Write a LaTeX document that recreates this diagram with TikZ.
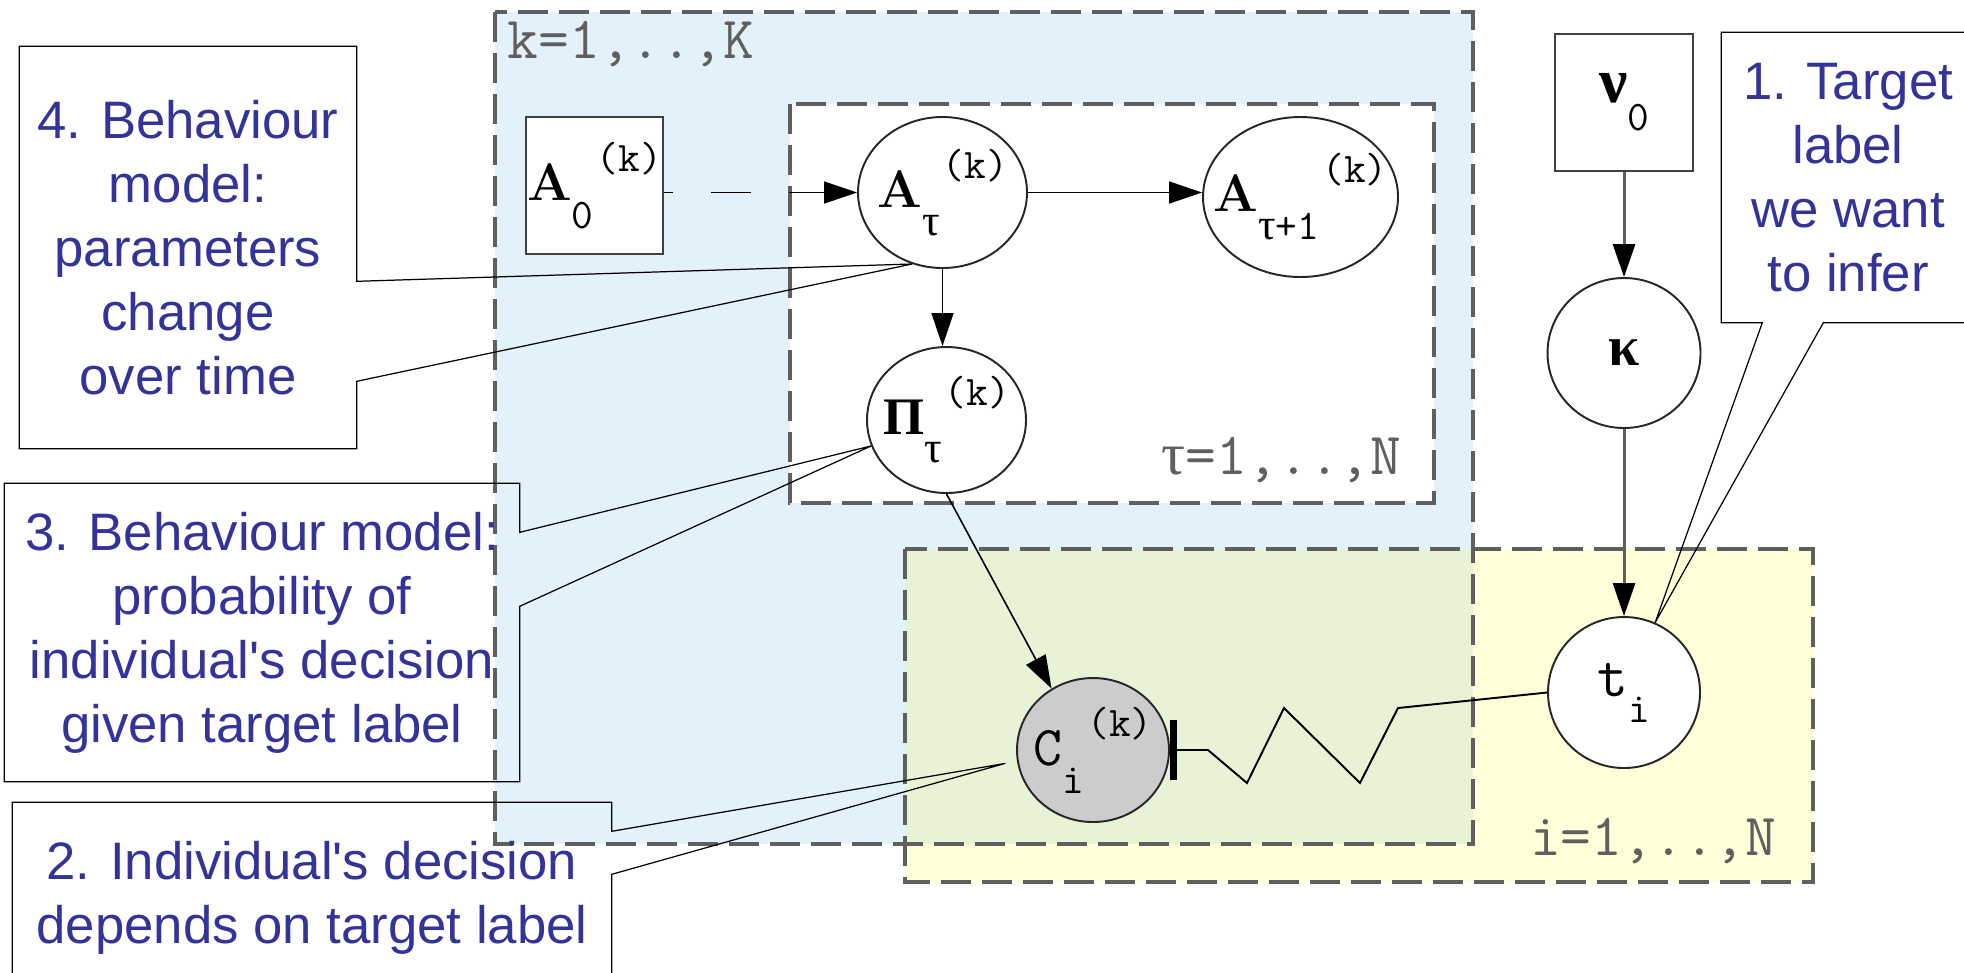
\documentclass[tikz,border=0pt]{standalone}
\usepackage{fontspec}
\setsansfont{Liberation Sans}
\newfontfamily\grkfont{Liberation Serif}
\usepackage{xcolor}
\definecolor{cNote}{HTML}{33339A}
\definecolor{cPlateK}{HTML}{E3F1FA}
\definecolor{cPlateI}{HTML}{FFFFD9}
\definecolor{cPlateKI}{HTML}{E7F2D7}
\definecolor{cLine}{HTML}{5F5F5F}
\definecolor{cObs}{HTML}{CCCCCC}
\usetikzlibrary{positioning,arrows.meta,shapes.geometric,calc}

\newcommand{\bigvar}{\fontsize{15}{15}\selectfont\bfseries}
\newcommand{\subvar}{\fontsize{12}{12}\selectfont\ttfamily}
\newcommand{\tsub}{{\grkfont\fontsize{12.5}{12.5}\selectfont τ}}
% zero-width box, so the label never widens the ellipse
\newcommand{\pgmvar}[3]{\makebox[0pt]{#1\raisebox{-0.28cm}{\subvar #2}%
  \hspace{0.03cm}\raisebox{0.29cm}{\subvar #3}}}

\tikzset{
  node-latent/.style={draw=black!85,line width=0.55pt,ellipse,inner sep=0pt,fill=white},
  node-obs/.style={node-latent,fill=cObs},
  node-fixed/.style={draw=black!75,line width=0.6pt,rectangle,inner sep=0pt,
    fill=white,minimum size=1.37cm},
  plate/.style={draw=cLine,line width=0.9pt,dash pattern=on 0.3cm off 0.11cm},
  plate-label/.style={text=cLine,font=\fontsize{17}{17}\selectfont\ttfamily,inner sep=0pt},
  arrow/.style={-{Triangle[length=0.33cm,width=0.22cm]},line width=0.45pt,draw=black},
  arrow-prior/.style={-{Triangle[length=0.33cm,width=0.22cm,color=black]},
    line width=0.85pt,draw=cLine},
  arrow-bar/.style={{Bar[width=0.6cm,line width=0.07cm]}-,line width=0.55pt,draw=black},
  note-text/.style={font=\fontsize{15}{18.2}\selectfont\sffamily,text=cNote,
    align=center,inner sep=0pt},
  note-line/.style={draw=black,line width=0.35pt},
}

\begin{document}
\begin{tikzpicture}
  \useasboundingbox (0,0) rectangle (19.64,-9.72);
  \clip (0,0) rectangle (19.64,-9.72);

  % plates
  \fill[cPlateK] (4.95,-0.12) rectangle (14.73,-8.44);
  \fill[cPlateI] (9.05,-5.49) rectangle (18.13,-8.82);
  \fill[cPlateKI] (9.05,-5.49) rectangle (14.73,-8.44);
  \fill[white] (7.90,-1.04) rectangle (14.34,-5.03);
  \draw[plate] (4.95,-0.12) rectangle (14.73,-8.44);
  \draw[plate] (7.90,-1.04) rectangle (14.34,-5.03);
  \draw[plate] (9.05,-5.49) rectangle (18.13,-8.82);
  \node[plate-label,anchor=base west] (labK) at (5.07,-0.58) {k=1,..,K};
  \node[plate-label,anchor=base east] (labT) at (14.02,-4.74) {{\grkfont τ}=1,..,N};
  \node[plate-label,anchor=base east] (labI) at (17.77,-8.55) {i=1,..,N};

  % variables
  \node[node-fixed] (A0) at (5.945,-1.855) {\pgmvar{{\bigvar A}}{0}{(k)}};
  \node[node-latent,minimum width=1.69cm,minimum height=1.51cm] (Atau) at (9.425,-1.925)
    {\pgmvar{{\bigvar A}}{\tsub}{(k)}};
  \node[node-latent,minimum width=1.95cm,minimum height=1.60cm] (Atau1) at (13.005,-1.97)
    {\pgmvar{{\bigvar A}}{\tsub+1}{(k)}};
  \node[node-latent,minimum width=1.59cm,minimum height=1.46cm] (Pi) at (9.465,-4.20)
    {\pgmvar{{\grkfont\bigvar Π}}{\tsub}{(k)}};
  \node[node-obs,minimum width=1.52cm,minimum height=1.44cm] (Ci) at (10.93,-7.50)
    {\pgmvar{{\fontsize{16}{16}\selectfont\ttfamily C}}{i}{(k)}};
  \node[node-fixed,minimum width=1.38cm] (nu0) at (16.24,-1.025)
    {{\grkfont\fontsize{18}{18}\selectfont\bfseries ν}\raisebox{-0.28cm}{\subvar 0}};
  \node[node-latent,minimum width=1.53cm,minimum height=1.50cm] (kappa) at (16.24,-3.53)
    {{\grkfont\fontsize{16}{16}\selectfont\bfseries κ}};
  \node[node-latent,minimum width=1.52cm,minimum height=1.51cm] (ti) at (16.24,-6.925)
    {{\fontsize{17}{17}\selectfont\ttfamily t}\raisebox{-0.26cm}{\subvar i}};

  % edges
  \draw[arrow,dash pattern=on 0.4cm off 0.38cm,dash phase=0.31cm]
    (A0.east |- Atau.west) -- (Atau.west);
  \draw[arrow] (Atau.east) -- (Atau.east -| Atau1.west);
  \draw[arrow] (Atau.south) -- (Atau.south |- Pi.north);
  \draw[arrow] (Pi.south) -- (Ci.124);
  \draw[arrow-prior] (nu0.south) -- (kappa.north);
  \draw[arrow-prior] (kappa.south) -- (ti.north);
  \draw[arrow-bar] (Ci.east) -- ++(0.38,0) -- ++(0.39,-0.33) -- ++(0.37,0.75)
    -- ++(0.76,-0.75) -- ++(0.38,0.75) -- (ti.west);

  % notes
  \node[note-text,minimum width=3.36cm,minimum height=4.01cm] (n4) at (1.88,-2.475)
    {4. Behaviour\\model:\\parameters\\change\\over time};
  \draw[note-line] (n4.north west) -- (n4.north east) -- ($(n4.north east)+(0,-2.35)$)
    -- (Atau.247) -- ($(n4.north east)+(0,-3.35)$) -- (n4.south east)
    -- (n4.south west) -- cycle;
  \node[note-text,minimum width=5.14cm,minimum height=2.97cm] (n3) at (2.62,-6.325)
    {3. Behaviour model:\\probability of\\individual\textquotesingle s decision\\given target label};
  \draw[note-line] (n3.north west) -- (n3.north east) -- ($(n3.north east)+(0,-0.49)$)
    -- (Pi.199) -- ($(n3.north east)+(0,-1.23)$) -- (n3.south east)
    -- (n3.south west) -- cycle;
  \node[note-text,minimum width=5.98cm,minimum height=1.90cm] (n2) at (3.12,-8.98)
    {2. Individual\textquotesingle s decision\\depends on target label};
  \draw[note-line] (n2.north west) -- (n2.north east) -- ($(n2.north east)+(0,-0.29)$)
    -- ([xshift=-0.12cm]Ci.190) -- ($(n2.north east)+(0,-0.72)$) -- (n2.south east)
    -- (n2.south west) -- cycle;
  \node[note-text,minimum width=2.52cm,minimum height=2.89cm] (n1) at (18.48,-1.775)
    {1. Target\\label\\we want\\to infer};
  \draw[note-line] (n1.south west) -- ($(n1.south west)+(0.41,0)$) -- (ti.66)
    -- ($(n1.south west)+(1.02,0)$) -- (n1.south east) -- (n1.north east)
    -- (n1.north west) -- cycle;
\end{tikzpicture}
\end{document}
